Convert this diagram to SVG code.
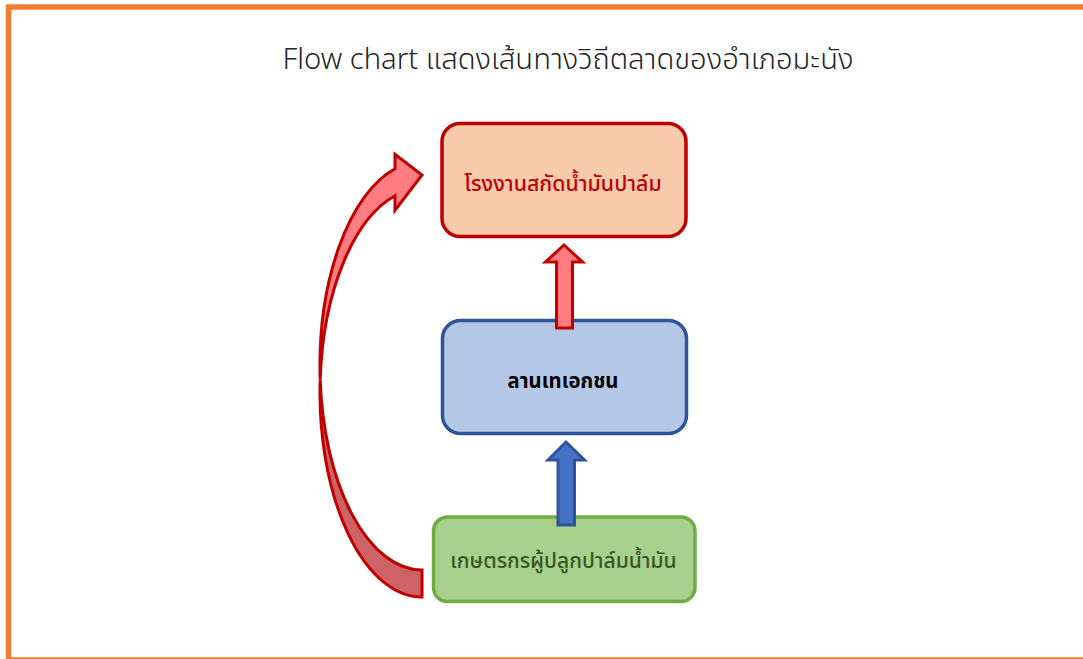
<svg xmlns="http://www.w3.org/2000/svg" width="1083" height="659" viewBox="0 0 1083 659">
<style>
.t{font-family:"Noto Sans Thai","Noto Sans","Leelawadee UI","Tahoma","DejaVu Sans",sans-serif;text-anchor:middle;dominant-baseline:central}
.box{stroke-width:3.5}
.arr{stroke-width:3;stroke-linejoin:miter}
</style>
<rect x="0" y="0" width="1083" height="659" fill="#FFFFFF"/>
<rect id="frame" x="8.5" y="7" width="1085" height="653" fill="none" stroke="#ED7D31" stroke-width="5.5"/>
<text id="title" class="t" x="568" y="60" font-size="29.2" font-weight="300" fill="#262626">Flow chart แสดงเส้นทางวิถีตลาดของอำเภอมะนัง</text>
<g id="node-mill">
<rect class="box" x="442" y="123.5" width="244" height="113" rx="18" fill="#F8CBAD" stroke="#C00000"/>
<text class="t" x="563" y="184" font-size="21.3" font-weight="500" fill="#C00000">โรงงานสกัดน้ำมันปาล์ม</text>
</g>
<g id="node-yard">
<rect class="box" x="442.5" y="320.5" width="244" height="113" rx="18" fill="#B4C7E7" stroke="#2F5597"/>
<text class="t" x="563" y="381" font-size="20.3" font-weight="bold" fill="#000000">ลานเทเอกชน</text>
</g>
<g id="node-farmer">
<rect class="box" x="433.5" y="517" width="261.5" height="84.5" rx="14" fill="#A9D18E" stroke="#70AD47"/>
<text class="t" x="563.5" y="561" font-size="21" font-weight="500" fill="#385723">เกษตรกรผู้ปลูกปาล์มน้ำมัน</text>
</g>
<g id="connectors">
<polygon class="arr" points="564,245 582.5,262 572.5,262 572.5,328 556.5,328 556.5,262 545.5,262" fill="#FF7C80" stroke="#C00000"/>
<polygon class="arr" points="566,442 584.5,460 574.5,460 574.5,525 558,525 558,460 548,460" fill="#4472C4" stroke="#2F5597"/>
<path class="arr" d="M320.2 379.25 A102 204.25 0 0 1 395 168.8 L395 154.3 L422 175 L395 210.3 L395 195.8 A102 204.25 0 0 0 320.2 379.25 Z" fill="#FF7C80" stroke="#C00000"/>
<path class="arr" d="M320.2 379.25 A102 204.25 0 0 0 422 570 L422 597 A102 204.25 0 0 1 320.2 379.25 Z" fill="#CD6367" stroke="#C00000"/>
</g>
</svg>
